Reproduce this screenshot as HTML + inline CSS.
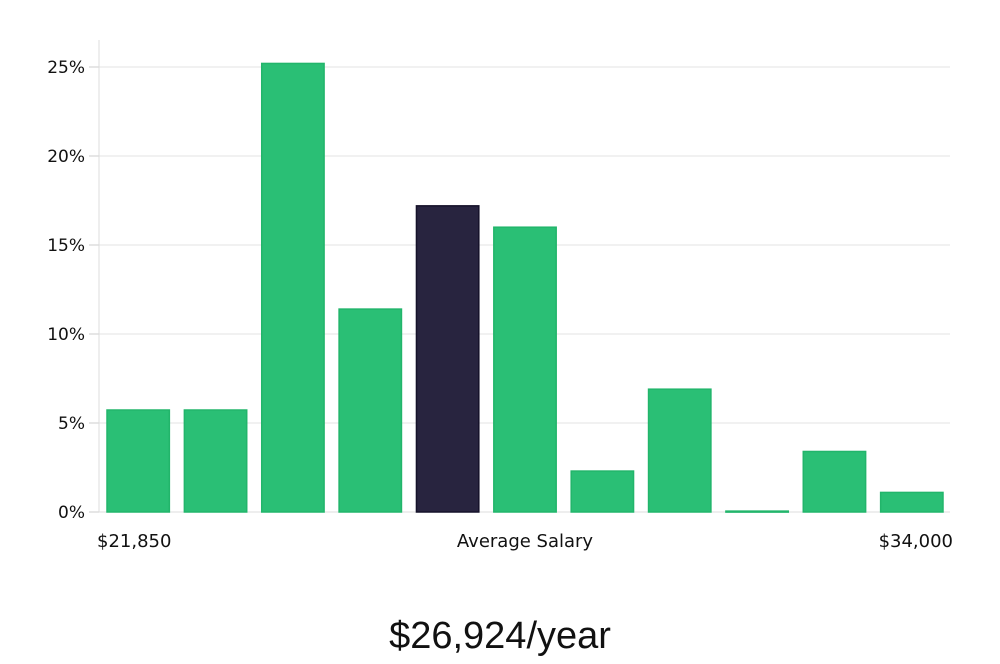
<!DOCTYPE html>
<html><head><meta charset="utf-8"><style>
body{margin:0;background:#fff;width:1000px;height:660px;overflow:hidden;font-family:"DejaVu Sans","Liberation Sans",sans-serif}
</style></head><body>
<svg id="chart" width="1000" height="660" xmlns="http://www.w3.org/2000/svg"></svg>
<script>
const categories=["b1","b2","b3","b4","b5","b6","b7","b8","b9","b10","b11"];
const values=[5.73,5.73,25.2,11.4,17.2,16.0,2.3,6.9,0.05,3.4,1.1];
const highlight=[false,false,false,false,true,false,false,false,false,false,false];
const yTicks=[0,5,10,15,20,25];
const yTickLabels=["0%","5%","10%","15%","20%","25%"];
const xLabels=["$21,850","Average Salary","$34,000"];
const title="$26,924/year";
const NS="http://www.w3.org/2000/svg";
const svg=document.getElementById('chart');
const x0=99,x1=950,yBase=512,pxPer=17.8;
const y=v=>yBase-v*pxPer;
const band=(x1-x0)/categories.length;
const bx=i=>x0+i*band+8;
function mk(t,a,p){const e=document.createElementNS(NS,t);for(const k in a)e.setAttribute(k,a[k]);(p||svg).appendChild(e);return e;}
const grid=mk('g',{});


yTicks.forEach((t,i)=>{
  if(t>0){const l=mk('line',{x1:x0,x2:x1,y1:y(t),y2:y(t),stroke:'#e3e3e3','stroke-width':1},grid);
  
  }
  const tk=mk('line',{x1:89,x2:x0,y1:y(t),y2:y(t),stroke:'#ccc','stroke-width':1},grid);
  
  
  const tx=mk('text',{x:85,y:y(t)+6,'text-anchor':'end','font-size':17,fill:'#111'},grid);
  tx.textContent=yTickLabels[i];
  
  
});
const ax=mk('line',{x1:x0,x2:x0,y1:40,y2:yBase,stroke:'#ddd','stroke-width':1});


const xa=mk('line',{x1:x0,x2:x1,y1:yBase,y2:yBase,stroke:'#ddd','stroke-width':1});


values.forEach((v,i)=>{
  const h=highlight[i];
  const r=mk('rect',{x:bx(i),y:y(v),width:band-15,height:Math.max(v*pxPer,1),fill:h?'#28243f':'#2abf75',stroke:h?'#15122a':'#22b56b','stroke-width':1.5});
  
  
});
const xl=[[97,'start'],[525,'middle'],[953,'end']];
xLabels.forEach((s,i)=>{
  const t=mk('text',{x:xl[i][0],y:547,'text-anchor':xl[i][1],'font-size':18,fill:'#111'});
  t.textContent=s;
  
  
});
const tt=mk('text',{x:500,y:648,'text-anchor':'middle','font-size':38,fill:'#111','font-family':'"Liberation Sans Narrow","Liberation Sans",sans-serif'});
tt.textContent=title;


</script>
</body></html>
